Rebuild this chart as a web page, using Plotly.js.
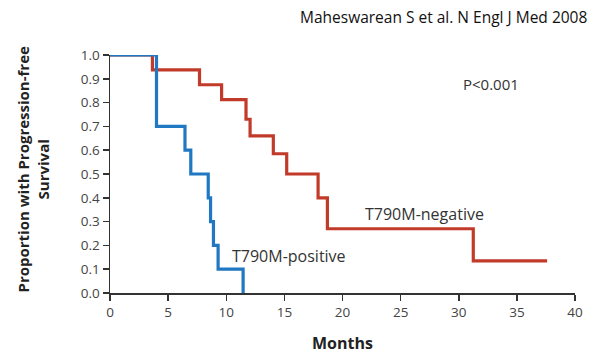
<!DOCTYPE html>
<html>
<head>
<meta charset="utf-8">
<script src="https://cdn.plot.ly/plotly-3.0.1.min.js"></script>
<style>html,body{margin:0;padding:0;background:#fff;}#chart{width:600px;height:356px;}</style>
</head>
<body>
<div id="chart"></div>
<script>
// Kaplan-Meier step data (months, proportion)
const negMonths = [0, 3.65, 7.7, 9.6, 11.7, 12.05, 14.05, 15.2, 17.9, 18.7, 31.25, 37.6];
const negSurv   = [1, 0.9375, 0.875, 0.8125, 0.73, 0.66, 0.585, 0.5, 0.4, 0.27, 0.135, 0.135];
const posMonths = [0, 4.0, 6.45, 6.95, 8.45, 8.65, 8.9, 9.3, 11.45];
const posSurv   = [1, 0.7, 0.6, 0.5, 0.4, 0.3, 0.2, 0.1, 0];
const xTicks = [0, 5, 10, 15, 20, 25, 30, 35, 40];
const yTicks = [0, 0.1, 0.2, 0.3, 0.4, 0.5, 0.6, 0.7, 0.8, 0.9, 1.0];

const tickFont = {family: 'Open Sans, sans-serif', size: 13.5, color: '#444'};

const traces = [
  {x: negMonths, y: negSurv, mode: 'lines', line: {shape: 'hv', color: '#c23b2a', width: 3.2}, hoverinfo: 'skip', name: 'T790M-negative'},
  {x: posMonths, y: posSurv, mode: 'lines', line: {shape: 'hv', color: '#1f78c1', width: 3.2}, hoverinfo: 'skip', name: 'T790M-positive'}
];

const layout = {
  width: 600, height: 356,
  margin: {l: 110, r: 25, t: 55, b: 63},
  paper_bgcolor: '#fff', plot_bgcolor: '#fff',
  showlegend: false,
  xaxis: {
    range: [0, 40], tickvals: xTicks, ticks: 'outside', ticklen: 6, tickwidth: 1.5, tickcolor: '#333',
    showline: true, linecolor: '#333', linewidth: 1.5, showgrid: false, zeroline: false,
    tickfont: tickFont,
    title: {text: '<b>Months</b>', font: {family: 'Open Sans, sans-serif', size: 16, color: '#222'}, standoff: 18}
  },
  yaxis: {
    range: [0, 1], tickvals: yTicks, tickformat: '.1f', ticks: 'outside', ticklen: 6, tickwidth: 1.5, tickcolor: '#333',
    showline: true, linecolor: '#333', linewidth: 1.5, showgrid: false, zeroline: false,
    tickfont: tickFont
  },
  annotations: [
    {text: '<b>Proportion with Progression-free<br>Survival</b>', textangle: -90, xref: 'paper', yref: 'paper',
     x: -0.165, y: 0.52, xanchor: 'center', yanchor: 'middle', showarrow: false,
     font: {family: 'Open Sans, sans-serif', size: 15, color: '#222'}},
    {text: 'P<0.001', xref: 'x', yref: 'y', x: 30.2, y: 0.88, xanchor: 'left', yanchor: 'middle', showarrow: false,
     font: {family: 'Open Sans, sans-serif', size: 15, color: '#333'}},
    {text: 'T790M-negative', xref: 'x', yref: 'y', x: 21.8, y: 0.33, xanchor: 'left', yanchor: 'middle', showarrow: false,
     font: {family: 'Open Sans, sans-serif', size: 16, color: '#333'}},
    {text: 'T790M-positive', xref: 'x', yref: 'y', x: 10.3, y: 0.155, xanchor: 'left', yanchor: 'middle', showarrow: false,
     font: {family: 'Open Sans, sans-serif', size: 16, color: '#333'}},
    {text: 'Maheswarean S et al. N Engl J Med 2008', xref: 'paper', yref: 'paper', x: 1.0, y: 1, xanchor: 'right', yanchor: 'middle',
     yshift: 38, xshift: 14, showarrow: false,
     font: {family: 'Open Sans, sans-serif', size: 15.5, color: '#111'}}
  ]
};

Plotly.newPlot('chart', traces, layout, {staticPlot: true, displayModeBar: false});
</script>
</body>
</html>
